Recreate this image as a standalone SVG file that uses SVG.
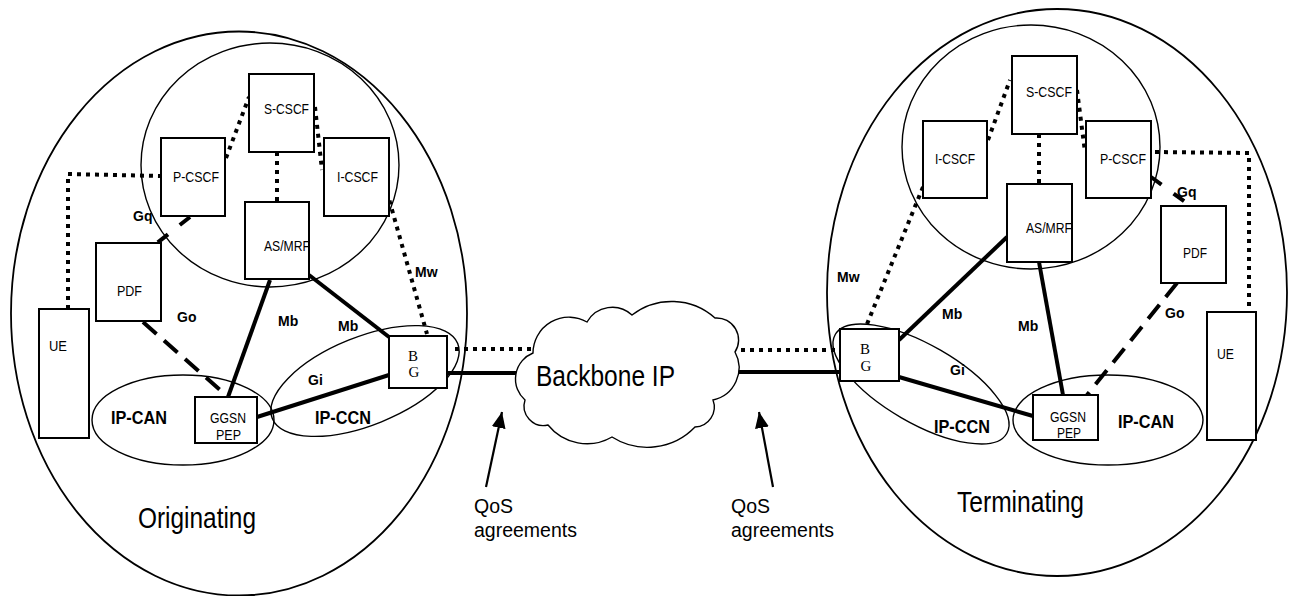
<svg xmlns="http://www.w3.org/2000/svg" width="1290" height="596" viewBox="0 0 1290 596">
  <style>
    .area { fill: none; stroke: #000; stroke-width: 1.8; }
    .ring { fill: none; stroke: #000; stroke-width: 1.4; }
    .box { fill: #fff; stroke: #000; stroke-width: 2; }
    .dot { fill: none; stroke: #000; stroke-width: 4; stroke-dasharray: 4 5; }
    .dash { fill: none; stroke: #000; stroke-width: 4; stroke-dasharray: 18 10; }
    .gq { fill: none; stroke: #000; stroke-width: 4; stroke-dasharray: 13 15; }
    .solid { fill: none; stroke: #000; stroke-width: 4; }
    .arrow { fill: none; stroke: #000; stroke-width: 2.2; }
    .cloud { fill: #fff; stroke: #000; stroke-width: 1.4; }
    text { font-family: "Liberation Sans", Arial, sans-serif; fill: #000; }
    .nl { font-size: 15px; }
    .bg { font-family: "Liberation Serif", "Times New Roman", serif; font-size: 15px; text-anchor: middle; }
    .if { font-size: 14px; font-weight: bold; }
    .net { font-size: 18px; font-weight: bold; }
    .big { font-size: 29px; }
    .qos { font-size: 19.5px; }
  </style>
  <defs>
    <marker id="head" markerUnits="userSpaceOnUse" markerWidth="18" markerHeight="14" refX="16" refY="7" orient="auto">
      <path d="M0,0 L16,7 L0,14 Z" fill="#000"/>
    </marker>
  </defs>

  <!-- domain outlines -->
  <g id="domains">
    <ellipse id="originating-domain" class="area" cx="239" cy="313.5" rx="228" ry="282"/>
    <ellipse id="terminating-domain" class="area" cx="1057" cy="292.5" rx="230" ry="283.5"/>
    <ellipse id="ims-left" class="ring" cx="270" cy="165" rx="129" ry="122"/>
    <ellipse id="ims-right" class="ring" cx="1031" cy="147" rx="129" ry="122"/>
    <ellipse id="ipcan-left" class="ring" cx="183" cy="420" rx="91" ry="45"/>
    <ellipse id="ipcan-right" class="ring" cx="1108" cy="420" rx="95" ry="45"/>
    <ellipse id="ipccn-left" class="ring" cx="365" cy="381" rx="100" ry="44" transform="rotate(-22 365 381)"/>
    <ellipse id="ipccn-right" class="ring" cx="921" cy="384" rx="99" ry="39" transform="rotate(30 921 384)"/>
  </g>

  <!-- interfaces -->
  <g id="connectors">
    <!-- originating side -->
    <polyline class="dot" points="68,309 68,174 160,176"/>
    <line class="dot" x1="226" y1="158" x2="249" y2="97"/>
    <line class="dot" x1="315" y1="107" x2="322" y2="170"/>
    <line class="dot" x1="277" y1="152" x2="277" y2="202"/>
    <line class="dot" x1="387" y1="192" x2="427" y2="334"/>
    <line class="gq" x1="190" y1="217" x2="157" y2="243"/>
    <line class="dash" x1="143" y1="322" x2="227" y2="396"/>
    <line class="solid" x1="270" y1="280" x2="228" y2="397"/>
    <line class="solid" x1="309" y1="275" x2="389" y2="337"/>
    <line class="solid" x1="257" y1="417" x2="389" y2="375"/>
    <!-- backbone links -->
    <line class="dot" x1="455" y1="349" x2="542" y2="349"/>
    <line class="solid" x1="447" y1="373" x2="522" y2="373"/>
    <line class="dot" x1="732" y1="350" x2="840" y2="350"/>
    <line class="solid" x1="736" y1="372" x2="840" y2="372"/>
    <!-- terminating side -->
    <polyline class="dot" points="1155,152 1249,153 1249,312"/>
    <line class="dot" x1="988" y1="140" x2="1010" y2="80"/>
    <line class="dot" x1="1077" y1="90" x2="1085" y2="152"/>
    <line class="dot" x1="1039" y1="134" x2="1039" y2="184"/>
    <line class="dot" x1="923" y1="187" x2="865" y2="329"/>
    <line class="gq" x1="1151" y1="177" x2="1192" y2="207"/>
    <line class="dash" x1="1177" y1="283" x2="1087" y2="395"/>
    <line class="solid" x1="1007" y1="237" x2="899" y2="340"/>
    <line class="solid" x1="1039" y1="262" x2="1063" y2="395"/>
    <line class="solid" x1="899" y1="377" x2="1033" y2="416"/>
    <!-- QoS arrows -->
    <line class="arrow" x1="486" y1="487" x2="502" y2="412" marker-end="url(#head)"/>
    <line class="arrow" x1="773" y1="487" x2="759" y2="412" marker-end="url(#head)"/>
  </g>

  <!-- backbone cloud -->
  <g id="backbone">
    <path class="cloud" d="M533,353 A36,36 0 0 1 587,322 A29,29 0 0 1 632,315 A65,65 0 0 1 715,318 A22,22 0 0 1 735,352 A33,33 0 0 1 713,400 A20,20 0 0 1 695,427 A66,66 0 0 1 612,437 A50,50 0 0 1 548,425 A19.5,19.5 0 0 1 525,400 A28,28 0 0 1 533,353 Z"/>
    <text class="big" x="536" y="386" textLength="139" lengthAdjust="spacingAndGlyphs">Backbone IP</text>
  </g>

  <!-- originating nodes -->
  <g id="s-cscf-o"><rect class="box" x="249" y="74" width="65" height="78"/><text class="nl" x="264" y="114" textLength="45" lengthAdjust="spacingAndGlyphs">S-CSCF</text></g>
  <g id="p-cscf-o"><rect class="box" x="161" y="138" width="64" height="78"/><text class="nl" x="173" y="182" textLength="46" lengthAdjust="spacingAndGlyphs">P-CSCF</text></g>
  <g id="i-cscf-o"><rect class="box" x="324" y="138" width="65" height="78"/><text class="nl" x="337" y="182" textLength="41" lengthAdjust="spacingAndGlyphs">I-CSCF</text></g>
  <g id="as-mrf-o"><rect class="box" x="245" y="202" width="64" height="77"/><text class="nl" x="264" y="251" textLength="46" lengthAdjust="spacingAndGlyphs">AS/MRF</text></g>
  <g id="pdf-o"><rect class="box" x="96" y="243" width="65" height="78"/><text class="nl" x="117" y="296" textLength="25" lengthAdjust="spacingAndGlyphs">PDF</text></g>
  <g id="ue-o"><rect class="box" x="39" y="309" width="50" height="129"/><text class="nl" x="49" y="351" textLength="18" lengthAdjust="spacingAndGlyphs">UE</text></g>
  <g id="ggsn-o"><rect class="box" x="195" y="397" width="62" height="46"/><text class="nl" x="210" y="423" textLength="36" lengthAdjust="spacingAndGlyphs">GGSN</text><text class="nl" x="216" y="440" textLength="25" lengthAdjust="spacingAndGlyphs">PEP</text></g>
  <g id="bg-o"><rect class="box" x="389" y="336" width="58" height="52"/><text class="bg" x="413" y="361">B</text><text class="bg" x="414" y="377">G</text></g>

  <!-- terminating nodes -->
  <g id="s-cscf-t"><rect class="box" x="1012" y="56" width="65" height="78"/><text class="nl" x="1026" y="97" textLength="46" lengthAdjust="spacingAndGlyphs">S-CSCF</text></g>
  <g id="i-cscf-t"><rect class="box" x="923" y="121" width="64" height="77"/><text class="nl" x="935" y="164" textLength="40" lengthAdjust="spacingAndGlyphs">I-CSCF</text></g>
  <g id="p-cscf-t"><rect class="box" x="1086" y="121" width="65" height="77"/><text class="nl" x="1100" y="164" textLength="46" lengthAdjust="spacingAndGlyphs">P-CSCF</text></g>
  <g id="as-mrf-t"><rect class="box" x="1007" y="184" width="65" height="78"/><text class="nl" x="1026" y="233" textLength="46" lengthAdjust="spacingAndGlyphs">AS/MRF</text></g>
  <g id="pdf-t"><rect class="box" x="1161" y="206" width="65" height="77"/><text class="nl" x="1183" y="258" textLength="24" lengthAdjust="spacingAndGlyphs">PDF</text></g>
  <g id="ue-t"><rect class="box" x="1207" y="312" width="49" height="128"/><text class="nl" x="1217" y="359" textLength="17" lengthAdjust="spacingAndGlyphs">UE</text></g>
  <g id="ggsn-t"><rect class="box" x="1033" y="395" width="65" height="45"/><text class="nl" x="1050" y="422" textLength="36" lengthAdjust="spacingAndGlyphs">GGSN</text><text class="nl" x="1057" y="438" textLength="24" lengthAdjust="spacingAndGlyphs">PEP</text></g>
  <g id="bg-t"><rect class="box" x="840" y="329" width="59" height="52"/><text class="bg" x="865" y="354">B</text><text class="bg" x="866" y="371">G</text></g>

  <!-- interface and area labels -->
  <g id="labels">
    <text class="if" x="133" y="221">Gq</text>
    <text class="if" x="177" y="322">Go</text>
    <text class="if" x="278" y="326">Mb</text>
    <text class="if" x="338" y="331">Mb</text>
    <text class="if" x="415" y="277">Mw</text>
    <text class="if" x="308" y="385">Gi</text>
    <text class="net" x="111" y="424" textLength="56" lengthAdjust="spacingAndGlyphs">IP-CAN</text>
    <text class="net" x="315" y="424" textLength="56" lengthAdjust="spacingAndGlyphs">IP-CCN</text>
    <text class="big" x="138" y="528" textLength="118" lengthAdjust="spacingAndGlyphs">Originating</text>

    <text class="if" x="1177" y="197">Gq</text>
    <text class="if" x="1165" y="318">Go</text>
    <text class="if" x="942" y="319">Mb</text>
    <text class="if" x="1018" y="331">Mb</text>
    <text class="if" x="837" y="282">Mw</text>
    <text class="if" x="950" y="375">Gi</text>
    <text class="net" x="934" y="433" textLength="56" lengthAdjust="spacingAndGlyphs">IP-CCN</text>
    <text class="net" x="1118" y="428" textLength="56" lengthAdjust="spacingAndGlyphs">IP-CAN</text>
    <text class="big" x="957" y="512" font-size="28" textLength="127" lengthAdjust="spacingAndGlyphs">Terminating</text>

    <text class="qos" x="474" y="513">QoS</text>
    <text class="qos" x="474" y="537">agreements</text>
    <text class="qos" x="731" y="513">QoS</text>
    <text class="qos" x="731" y="537">agreements</text>
  </g>
</svg>
